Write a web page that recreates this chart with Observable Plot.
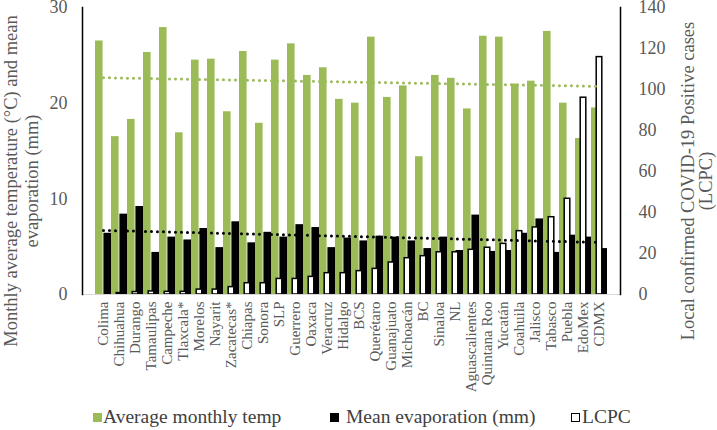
<!DOCTYPE html>
<html>
<head>
<meta charset="utf-8">
<script src="https://cdn.jsdelivr.net/npm/d3@7"></script>
<script src="https://cdn.jsdelivr.net/npm/@observablehq/plot@0.6"></script>
<style>
  body { margin: 0; background: white; }
  #wrap { position: relative; width: 717px; height: 430px; font-family: "Liberation Serif", "Times New Roman", serif; }
  .lg { position: absolute; font-size: 19.5px; color: #404040; line-height: 24px; white-space: nowrap; font-family: "Liberation Serif", serif; }
  .sq { position: absolute; width: 8px; height: 8px; }
</style>
</head>
<body>
<div id="wrap"></div>
<script>
const states = ["Colima","Chihuahua","Durango","Tamaulipas","Campeche","Tlaxcala*","Morelos","Nayarit","Zacatecas*","Chiapas","Sonora","SLP","Guerrero","Oaxaca","Veracruz","Hidalgo","BCS","Querétaro","Guanajuato","Michoacán","BC","Sinaloa","NL","Aguascalientes","Quintana Roo","Yucatán","Coahuila","Jalisco","Tabasco","Puebla","EdoMex","CDMX"];
const temp = [26.5,16.5,18.3,25.3,27.9,16.9,24.5,24.6,19.1,25.4,17.9,24.5,26.2,22.9,23.7,20.4,20.0,26.9,20.6,21.8,14.4,22.9,22.6,19.4,27.0,26.9,22.0,22.3,27.5,20.0,16.3,19.5];
const evap = [6.4,8.4,9.2,4.4,6.0,5.7,6.9,4.9,7.6,5.4,6.5,6.0,7.3,7.0,4.9,5.9,5.6,6.1,6.0,5.6,4.8,6.0,4.6,8.3,4.5,4.6,6.4,7.9,4.4,6.2,6.0,4.8];
const lcpc = [0,0.7,1.2,1.5,1.3,1.3,2.4,2.4,3.6,5.5,5.5,7.6,7.6,8.6,10.4,10.4,11.4,12.5,15.6,17.7,18.7,20.6,20.6,21.8,22.8,24.7,30.9,32.7,37.7,46.7,96,115.8];
const leftTicks = [0,10,20,30];
const rightTicks = [0,20,40,60,80,100,120,140];
const leftMax = 30, rightMax = 140;

const data = states.map((s,i)=>({state:s, i, temp:temp[i], evap:evap[i], lcpc:lcpc[i]}));

// linear trendlines (least squares on category index)
function fit(key){
  const mx = d3.mean(data, d=>d.i), my = d3.mean(data, d=>d[key]);
  const sxy = d3.sum(data, d=>(d.i-mx)*(d[key]-my));
  const sxx = d3.sum(data, d=>(d.i-mx)**2);
  const b = sxy/sxx, a = my - b*mx;
  return data.map(d=>({state:d.state, v:a+b*d.i}));
}
const trendT = fit("temp"), trendE = fit("evap");

const W = 717, H = 400, mL = 82, mR = 97, mT = 7, mB = 106;
const bw = (W - mL - mR) / states.length;
const toLeft = v => v * leftMax / rightMax;
const gray = "#595959";
const serif = "'Liberation Serif', 'Times New Roman', serif";

const chart = Plot.plot({
  width: W, height: H,
  marginLeft: mL, marginRight: mR, marginTop: mT, marginBottom: mB,
  style: {fontFamily: serif, fontSize: "15px", background: "white", overflow: "visible"},
  x: {domain: states, padding: 0, axis: null},
  y: {domain: [0, leftMax], axis: null},
  marks: [
    Plot.barY(data, {x:"state", y:"temp", fill:"#9BBB59", insetLeft:0, insetRight:bw/2}),
    Plot.barY(data, {x:"state", y:"evap", fill:"#000000", insetLeft:bw/2, insetRight:0}),
    Plot.barY(data, {x:"state", y:d=>toLeft(d.lcpc), fill:"white", stroke:"black", strokeWidth:1.5, insetLeft:5.2, insetRight:5.2}),
    Plot.lineY(trendT, {x:"state", y:"v", stroke:"#9BBB59", strokeWidth:3, strokeDasharray:"0,6", strokeLinecap:"round"}),
    Plot.lineY(trendE, {x:"state", y:"v", stroke:"#000000", strokeWidth:3, strokeDasharray:"0,6", strokeLinecap:"round"}),
    Plot.ruleY([0], {stroke:"#d9d9d9", strokeWidth:1}),
    Plot.frame({anchor:"left", stroke:"black", strokeWidth:1.5}),
    Plot.frame({anchor:"right", stroke:"black", strokeWidth:1.5}),
    Plot.axisY(leftTicks, {anchor:"left", tickSize:0, tickPadding:15, fontSize:18, fill:gray, label:null, fontFamily:serif}),
    Plot.axisY(rightTicks.map(toLeft), {anchor:"right", tickSize:0, tickPadding:18, fontSize:18, fill:gray, label:null, fontFamily:serif, tickFormat:d=>String(Math.round(d*rightMax/leftMax))}),
    Plot.axisX({tickRotate:-90, tickSize:0, tickPadding:7, fontSize:15, fill:gray, label:null, fontFamily:serif}),
    Plot.text(["Monthly average temperature (°C) and mean"], {text:d=>d, frameAnchor:"left", textAnchor:"middle", rotate:-90, dx:-71, dy:30, fontSize:18.5, fill:gray, lineAnchor:"middle", fontFamily:serif}),
    Plot.text(["evaporation (mm)"], {text:d=>d, frameAnchor:"left", textAnchor:"middle", rotate:-90, dx:-50, dy:30, fontSize:18.5, fill:gray, lineAnchor:"middle", fontFamily:serif}),
    Plot.text(["Local confirmed COVID-19 Positive cases"], {text:d=>d, frameAnchor:"right", textAnchor:"middle", rotate:-90, dx:68, dy:30, fontSize:18.5, fill:gray, lineAnchor:"middle", fontFamily:serif}),
    Plot.text(["(LCPC)"], {text:d=>d, frameAnchor:"right", textAnchor:"middle", rotate:-90, dx:86, dy:30, fontSize:18.5, fill:gray, lineAnchor:"middle", fontFamily:serif})
  ]
});

const wrap = document.getElementById("wrap");
wrap.appendChild(chart);

const legendItems = [
  {label:"Average monthly temp", sq:{left:93, fill:"#9BBB59", border:"none"}, text:103},
  {label:"Mean evaporation (mm)", sq:{left:330, fill:"#000", border:"none"}, text:346},
  {label:"LCPC", sq:{left:571, fill:"#fff", border:"1.5px solid #000"}, text:582}
];
for (const it of legendItems) {
  const s = document.createElement("div");
  s.className = "sq";
  s.style.left = it.sq.left + "px";
  s.style.top = "413px";
  s.style.background = it.sq.fill;
  s.style.border = it.sq.border;
  s.style.boxSizing = "border-box";
  s.style.width = "9px"; s.style.height = "9px";
  wrap.appendChild(s);
  const t = document.createElement("div");
  t.className = "lg";
  t.style.left = it.text + "px";
  t.style.top = "405px";
  t.textContent = it.label;
  wrap.appendChild(t);
}
</script>
</body>
</html>
